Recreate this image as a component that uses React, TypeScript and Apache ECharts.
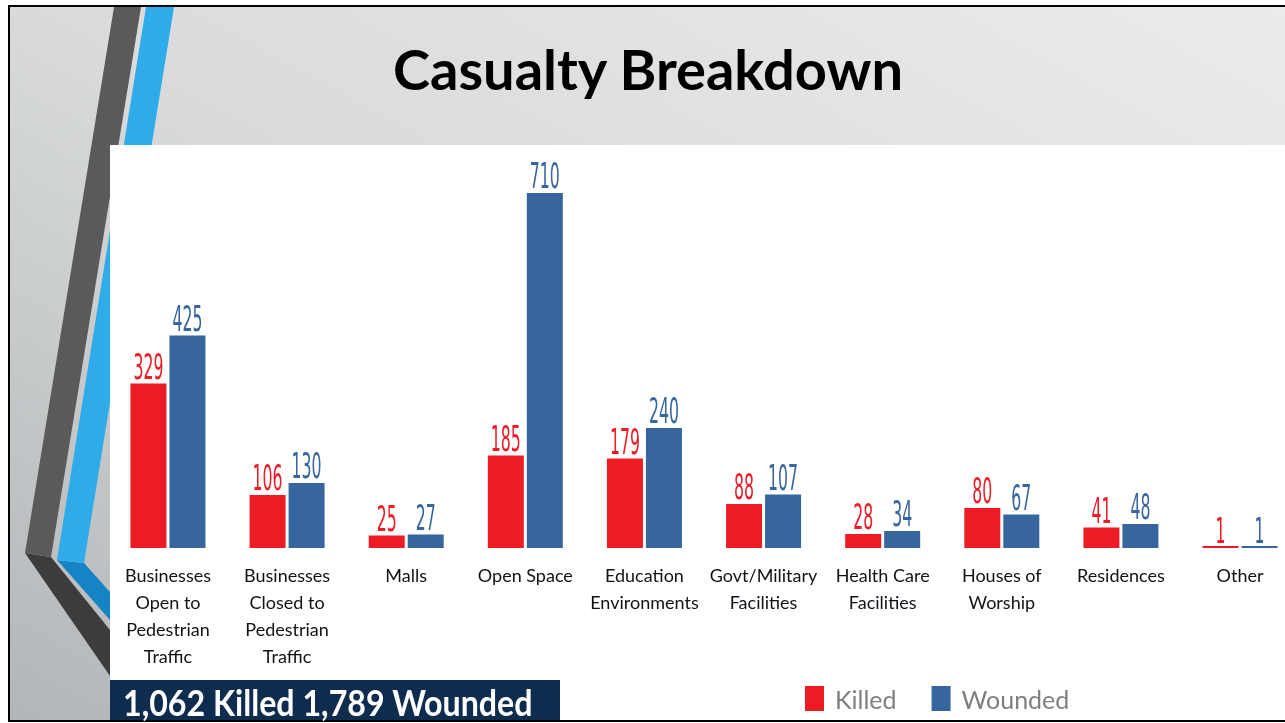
import React, { useEffect, useRef } from "react";
import * as echarts from "echarts";

const categories = [
  "Businesses\nOpen to\nPedestrian\nTraffic",
  "Businesses\nClosed to\nPedestrian\nTraffic",
  "Malls",
  "Open Space",
  "Education\nEnvironments",
  "Govt/Military\nFacilities",
  "Health Care\nFacilities",
  "Houses of\nWorship",
  "Residences",
  "Other",
];
const killed = [329, 106, 25, 185, 179, 88, 28, 80, 41, 1];
const wounded = [425, 130, 27, 710, 240, 107, 34, 67, 48, 1];
const seriesNames = ["Killed", "Wounded"];
const titleText = "Casualty Breakdown";
const totalsText = "1,062 Killed 1,789 Wounded";

const RED = "#ED1C24";
const BLUE = "#37659E";
const NARROW = '"DejaVu Sans Condensed", sans-serif';
const BAR_W = 36;
const BAR_GAP = 3;

function labelSeries(values: number[], color: string, dir: number) {
  return {
    type: "custom",
    silent: true,
    z: 5,
    data: values.map((v, i) => [i, v]),
    renderItem: (params: any, api: any) => {
      const p = api.coord([api.value(0), api.value(1)]);
      return {
        type: "text",
        x: p[0] + dir * (BAR_W + BAR_GAP) / 2,
        y: p[1] - 17,
        scaleX: 0.5,
        style: {
          text: String(api.value(1)),
          fill: color,
          font: `35px ${NARROW}`,
          align: "center",
          verticalAlign: "middle",
        },
      };
    },
  };
}

export default function App() {
  const ref = useRef<HTMLDivElement>(null);
  useEffect(() => {
    if (!ref.current) return;
    const chart = echarts.init(ref.current, null, { renderer: "svg" });
    chart.setOption({
      animation: false,
      graphic: {
        elements: [
          {
            type: "rect",
            z: -10,
            shape: { x: 9, y: 6, width: 1300, height: 715 },
            style: {
              fill: {
                type: "linear",
                x: 1,
                y: 0,
                x2: 0,
                y2: 1,
                colorStops: [
                  { offset: 0, color: "#ececed" },
                  { offset: 0.5, color: "#d8dadb" },
                  { offset: 1, color: "#b3b6b8" },
                ],
              },
              stroke: "#000",
              lineWidth: 2,
            },
          },
          {
            type: "polygon",
            z: -9,
            shape: { points: [[25, 553], [51, 557], [110, 630], [110, 676]] },
            style: { fill: "#3c3c3c" },
          },
          {
            type: "polygon",
            z: -9,
            shape: { points: [[114, 7], [141, 7], [51, 557], [25, 553]] },
            style: { fill: "#5a5a5a" },
          },
          {
            type: "polygon",
            z: -9,
            shape: { points: [[57, 560], [84, 563], [110, 592], [110, 620]] },
            style: { fill: "#1684c4" },
          },
          {
            type: "polygon",
            z: -9,
            shape: { points: [[146, 7], [174, 7], [84, 563], [57, 560]] },
            style: { fill: "#2eabe9" },
          },
          {
            type: "rect",
            z: -8,
            shape: { x: 110, y: 145, width: 1200, height: 575 },
            style: { fill: "#ffffff" },
          },
          {
            type: "rect",
            z: -7,
            shape: { x: 110, y: 680, width: 450, height: 40 },
            style: { fill: "#0e2c4e" },
          },
          {
            type: "text",
            z: -6,
            x: 123,
            y: 702,
            scaleX: 0.87,
            style: {
              text: totalsText,
              fill: "#ffffff",
              font: 'bold 37px Lato, "Open Sans", sans-serif',
              align: "left",
              verticalAlign: "middle",
            },
          },
          {
            type: "text",
            z: -6,
            x: 648,
            y: 68,
            style: {
              text: titleText,
              fill: "#000000",
              font: "bold 56px Lato, sans-serif",
              align: "center",
              verticalAlign: "middle",
            },
          },
        ],
      },
      legend: {
        data: seriesNames,
        left: 805,
        top: 686,
        padding: 0,
        itemWidth: 19,
        itemHeight: 25,
        itemGap: 35,
        icon: "rect",
        textStyle: { fontFamily: "Lato, sans-serif", fontSize: 25, color: "#7f7f7f", padding: [0, 0, 0, 6] },
      },
      grid: { left: 108.4, right: 0.4, top: 148, bottom: 175 },
      xAxis: {
        type: "category",
        data: categories,
        axisLine: { show: false },
        axisTick: { show: false },
        axisLabel: {
          interval: 0,
          margin: 13,
          fontFamily: "Lato, sans-serif",
          fontSize: 18,
          lineHeight: 27,
          color: "#111118",
        },
      },
      yAxis: {
        type: "value",
        min: 0,
        max: 800,
        show: false,
        splitLine: { show: false },
      },
      series: [
        {
          name: seriesNames[0],
          type: "bar",
          data: killed,
          barWidth: BAR_W,
          barGap: `${(BAR_GAP / BAR_W) * 100}%`,
          barMinHeight: 2,
          itemStyle: { color: RED },
        },
        {
          name: seriesNames[1],
          type: "bar",
          data: wounded,
          barWidth: BAR_W,
          barGap: `${(BAR_GAP / BAR_W) * 100}%`,
          barMinHeight: 2,
          itemStyle: { color: BLUE },
        },
        labelSeries(killed, RED, -1),
        labelSeries(wounded, BLUE, 1),
      ],
    });
    return () => chart.dispose();
  }, []);
  return (
    <div
      style={{ position: "fixed", left: 0, top: 0, width: 1285, height: 723, overflow: "hidden" }}
    >
      <div ref={ref} style={{ width: 1300, height: 723 }} />
    </div>
  );
}
